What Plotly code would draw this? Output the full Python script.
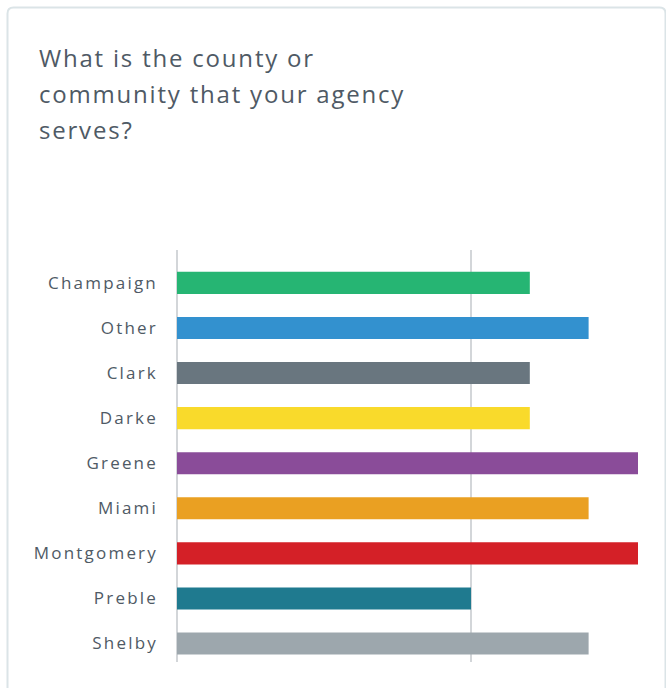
import plotly.graph_objects as go

# Survey responses: number of agencies serving each county / community
counties = ["Champaign", "Other", "Clark", "Darke", "Greene",
            "Miami", "Montgomery", "Preble", "Shelby"]
responses = [6, 7, 6, 6, 8, 7, 8, 5, 7]
bar_colors = ["#26b573", "#3391cf", "#69767f", "#f9da2b", "#8a4c99",
              "#eaa022", "#d42027", "#1f7a8f", "#9da7ad"]
title_lines = ["What is the county or",
               "community that your agency",
               "serves?"]

W, H = 666, 688
M_L, M_R, M_T, M_B = 177, 28, 250, 26
PW, PH = W - M_L - M_R, H - M_T - M_B


def px_x(x):
    return (x - M_L) / PW


def px_y(y):
    return (H - M_B - y) / PH


TEXT = "#4f5a65"

fig = go.Figure(go.Bar(
    y=counties,
    x=responses,
    orientation="h",
    width=0.49,
    marker=dict(color=bar_colors, line=dict(width=0)),
    hoverinfo="y+x",
))

# card outline with rounded top corners
l, t, r, b, rad = 7.5, 7.5, 665.5, 720, 6
card_path = (
    f"M {px_x(l)},{px_y(b)} L {px_x(l)},{px_y(t + rad)} "
    f"Q {px_x(l)},{px_y(t)} {px_x(l + rad)},{px_y(t)} "
    f"L {px_x(r - rad)},{px_y(t)} "
    f"Q {px_x(r)},{px_y(t)} {px_x(r)},{px_y(t + rad)} "
    f"L {px_x(r)},{px_y(b)}"
)

annotations = []
for i, line in enumerate(title_lines):
    annotations.append(dict(
        text=line, xref="paper", yref="paper",
        x=px_x(37), y=px_y(57 + 36 * i),
        xanchor="left", yanchor="middle", align="left", showarrow=False,
        font=dict(family="Open Sans", size=24, color=TEXT),
    ))

fig.update_layout(
    width=W, height=H,
    margin=dict(l=M_L, r=M_R, t=M_T, b=M_B),
    paper_bgcolor="white",
    plot_bgcolor="white",
    showlegend=False,
    bargap=0.5,
    shapes=[dict(type="path", path=card_path, xref="paper", yref="paper",
                 line=dict(color="#dbe4e7", width=2), layer="below")],
    annotations=annotations,
    xaxis=dict(range=[0, 7.84], dtick=5, tick0=0, showticklabels=False,
               showgrid=True, gridcolor="#d3d6d9", gridwidth=2,
               zeroline=True, zerolinecolor="#d3d6d9", zerolinewidth=2,
               fixedrange=True),
    yaxis=dict(categoryorder="array", categoryarray=counties,
               range=[8.41, -0.73], autorange=False,
               showgrid=False, zeroline=False, ticks="",
               ticklabelstandoff=18,
               tickfont=dict(family="Open Sans", size=17, color=TEXT),
               fixedrange=True),
)

# widen the tracking of the category labels and the question text
tracking_js = """
document.querySelectorAll('.ytick text').forEach(function (el) {
    el.style.letterSpacing = '2.2px';
});
document.querySelectorAll('.annotation-text').forEach(function (el) {
    el.style.letterSpacing = '1.8px';
});
"""

fig.write_html("out.html", post_script=tracking_js)
